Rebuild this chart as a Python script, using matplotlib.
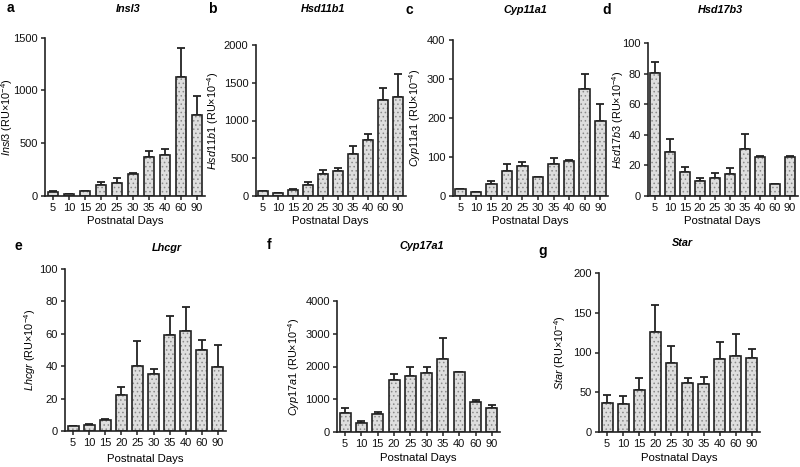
import matplotlib
matplotlib.use('Agg')
import matplotlib.pyplot as plt
import numpy as np

plt.rcParams['font.family'] = ['Liberation Sans', 'DejaVu Sans']
plt.rcParams['mathtext.fontset'] = 'custom'
plt.rcParams['mathtext.rm'] = 'Liberation Sans'
plt.rcParams['mathtext.it'] = 'Liberation Sans:italic'
plt.rcParams['mathtext.bf'] = 'Liberation Sans:bold'
plt.rcParams['hatch.linewidth'] = 0.6
plt.rcParams['hatch.color'] = '#7a7a7a'

# ---- data ----
days = ['5', '10', '15', '20', '25', '30', '35', '40', '60', '90']

insl3_mean = [41, 16, 47, 101, 123, 208, 373, 385, 1130, 767]
insl3_sem = [6, 3, 3, 32, 51, 7, 53, 60, 270, 180]

hsd11b1_mean = [66, 35, 75, 146, 287, 327, 556, 742, 1271, 1316]
hsd11b1_sem = [4, 3, 18, 39, 62, 48, 111, 75, 155, 295]

cyp11a1_mean = [17, 10, 32, 64, 76, 49, 81, 90, 274, 193]
cyp11a1_sem = [1.5, 1, 6, 17, 11, 1, 17, 2, 40, 43]

hsd17b3_mean = [80.5, 28.6, 16, 10, 12, 14.2, 30.8, 25.8, 7.9, 25.3]
hsd17b3_sem = [7.3, 8.4, 3, 2, 2.8, 3.8, 9.6, 0.3, 0.2, 0.8]

lhcgr_mean = [2.9, 3.5, 6.7, 22, 40, 35.4, 59, 62, 49.8, 39.7]
lhcgr_sem = [0.2, 0.6, 0.7, 5.3, 15.8, 2.8, 12.1, 14.3, 6.5, 13.3]

cyp17a1_mean = [588, 286, 538, 1580, 1723, 1798, 2218, 1832, 908, 731]
cyp17a1_sem = [151, 59, 84, 185, 252, 185, 648, 10, 84, 101]

star_mean = [36.8, 35.6, 52.7, 126, 86.6, 61.5, 60.3, 91.2, 95, 93.7]
star_sem = [9.2, 9.6, 15.1, 33.4, 22.2, 6.7, 9.2, 21.8, 28.4, 10.9]

W, H = 800, 467
fig = plt.figure(figsize=(8, 4.67), dpi=100)


def add_ax(l, t, r, b):
    return fig.add_axes([l / W, 1 - b / H, (r - l) / W, (b - t) / H])


panels = [
    # gene, mean, sem, ymax, ystep, box, letter xy, title xy, xlabel y, ylabel x
    ('Insl3', insl3_mean, insl3_sem, 1500, 500, (45, 37.7, 205, 196), 'a', (7, 8), (128, 9), 221, 11),
    ('Hsd11b1', hsd11b1_mean, hsd11b1_sem, 2000, 500, (255.5, 45, 405.5, 196), 'b', (208, 9), (323, 9), 221, 216),
    ('Cyp11a1', cyp11a1_mean, cyp11a1_sem, 400, 100, (452.5, 40, 608, 196), 'c', (406, 10), (525, 10), 221, 418),
    ('Hsd17b3', hsd17b3_mean, hsd17b3_sem, 100, 20, (647.5, 43, 797.5, 196), 'd', (602, 10), (720, 10), 221, 622),
    ('Lhcgr', lhcgr_mean, lhcgr_sem, 100, 20, (65, 269, 226, 431), 'e', (14, 246), (167, 248), 459, 33),
    ('Cyp17a1', cyp17a1_mean, cyp17a1_sem, 4000, 1000, (337, 301, 500, 432), 'f', (267, 245), (422, 246), 458, 298),
    ('Star', star_mean, star_sem, 200, 50, (599, 273, 760, 432), 'g', (538, 251), (682, 243), 458, 563),
]

for gene, mean, sem, ymax, ystep, box, letter, lxy, txy, xly, ylx in panels:
    ax = add_ax(*box)
    x = np.arange(len(days))
    mean = np.asarray(mean, float)
    sem = np.asarray(sem, float)
    ax.errorbar(x, mean, yerr=[np.zeros_like(sem), sem], fmt='none',
                ecolor='#222222', elinewidth=1.3, capsize=3, capthick=1.3, zorder=1)
    ax.bar(x, mean, width=0.68, color='#dedede', hatch='....', edgecolor='#8a8a8a',
           linewidth=0, zorder=2)
    ax.bar(x, mean, width=0.68, fill=False, edgecolor='#222222', linewidth=1.2, zorder=3)
    ax.set_xlim(-0.5, len(days) - 0.5)
    ax.set_ylim(0, ymax)
    ax.set_yticks(np.arange(0, ymax + ystep / 2, ystep))
    ax.set_xticks(x)
    ax.set_xticklabels(days)
    for s in ['top', 'right']:
        ax.spines[s].set_visible(False)
    for s in ['left', 'bottom']:
        ax.spines[s].set_linewidth(1.2)
        ax.spines[s].set_color('#222222')
    ax.tick_params(axis='both', labelsize=8, length=3, width=1.1, pad=2, colors='#222222')
    ax.tick_params(axis='both', labelcolor='#111111')
    ax.set_ylabel('$\\it{' + gene + '}$ (RU\u00d710$^{-4}$)', fontsize=7.8)
    ax.yaxis.set_label_coords((ylx + 4.5 - box[0]) / (box[2] - box[0]), 0.5)
    fig.text(lxy[0] / W, 1 - lxy[1] / H, letter, fontsize=10, fontweight='bold',
             ha='left', va='center')
    fig.text(txy[0] / W, 1 - txy[1] / H, gene, fontsize=7.8, fontstyle='italic',
             fontweight='bold', ha='center', va='center')
    cx = (box[0] + box[2]) / 2
    fig.text(cx / W, 1 - xly / H, 'Postnatal Days', fontsize=8.2, ha='center', va='center')

fig.savefig('out.png', dpi=100, facecolor='white')
